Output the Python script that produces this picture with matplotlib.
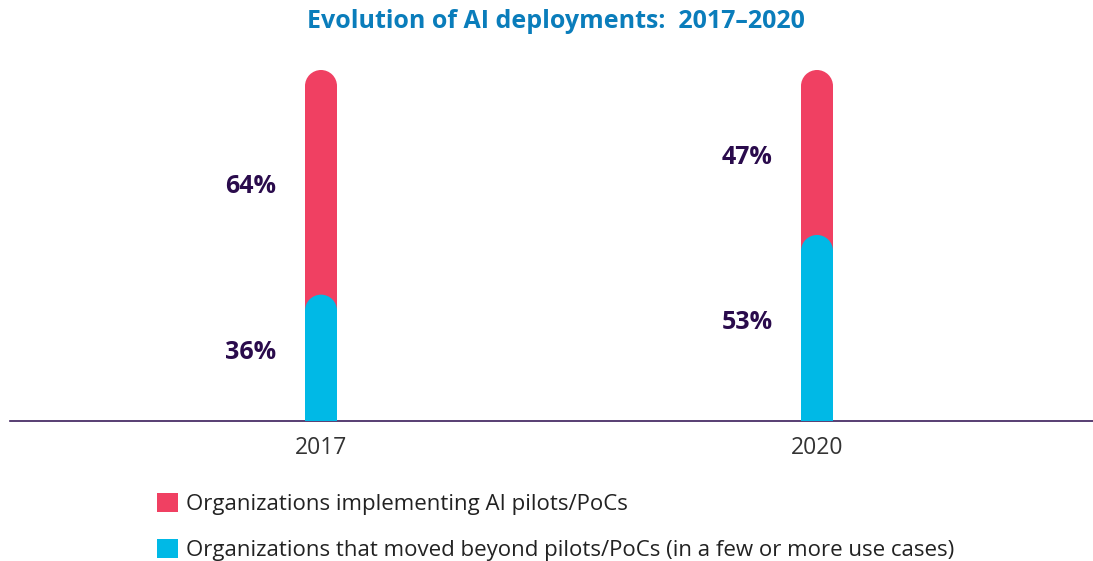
import matplotlib
matplotlib.use("Agg")
import matplotlib.pyplot as plt
from matplotlib.patches import Rectangle, Ellipse, Patch

years = ["2017", "2020"]
beyond = [36, 53]       # moved beyond pilots (blue)
pilots = [64, 47]       # implementing pilots (red)
series_labels = ["Organizations implementing AI pilots/PoCs",
                 "Organizations that moved beyond pilots/PoCs (in a few or more use cases)"]
title = "Evolution of AI deployments:  2017\u20132020"

RED = "#F04062"
BLUE = "#00B9E6"
LBL = "#2A0B4C"
TITLE_C = "#0A7DBB"

plt.rcParams['font.family'] = ['Open Sans', 'DejaVu Sans']

W, H = 1093, 561
fig = plt.figure(figsize=(W/100, H/100), dpi=100)
ax_l, ax_r, ax_top, ax_bot = 10, 1093, 70, 421
ax = fig.add_axes([ax_l/W, (H-ax_bot)/H, (ax_r-ax_l)/W, (ax_bot-ax_top)/H])

px_per_unit = 496.0
c0 = 321 - ax_l
xmin = -c0/px_per_unit
xmax = xmin + (ax_r-ax_l)/px_per_unit
ax.set_xlim(xmin, xmax)
ax.set_ylim(0, 100)

bar_px = 32
bw = bar_px/px_per_unit
ry = (bar_px/2)/(ax_bot-ax_top)*100

def rounded_bar(x, top, color, z):
    ax.add_patch(Rectangle((x-bw/2, 0), bw, top-ry, facecolor=color, edgecolor='none', zorder=z))
    ax.add_patch(Ellipse((x, top-ry), bw, 2*ry, facecolor=color, edgecolor='none', zorder=z))

for i, (b, p) in enumerate(zip(beyond, pilots)):
    rounded_bar(i, b+p, RED, 2)
    rounded_bar(i, b, BLUE, 3)
    lx = i - 70/px_per_unit
    ax.text(lx, b + p/2 - 1.3, f"{p}%", ha='center', va='center', fontsize=18,
            fontweight='bold', color=LBL)
    ax.text(lx, b/2 + 1.6, f"{b}%", ha='center', va='center', fontsize=18,
            fontweight='bold', color=LBL)

for s in ['top', 'right', 'left']:
    ax.spines[s].set_visible(False)
ax.spines['bottom'].set_color('#3B1E5A')
ax.spines['bottom'].set_linewidth(1.2)
ax.set_yticks([])
ax.set_xticks(range(len(years)))
ax.set_xticklabels(years, fontsize=16.5, color='#333333')
ax.tick_params(axis='x', length=0, pad=11)

fig.text(556/W, 1-22/H, title, ha='center', va='center', fontsize=18,
         fontweight='bold', color=TITLE_C)

handles = [Patch(facecolor=RED, edgecolor='none'), Patch(facecolor=BLUE, edgecolor='none')]
fig.legend(handles, series_labels, loc='upper left', bbox_to_anchor=(148/W, 1-484/H),
           frameon=False, fontsize=16, handlelength=0.95, handleheight=0.95,
           handletextpad=0.36, labelspacing=1.07, borderaxespad=0, labelcolor='#222222')

fig.savefig("out.png", dpi=100)
